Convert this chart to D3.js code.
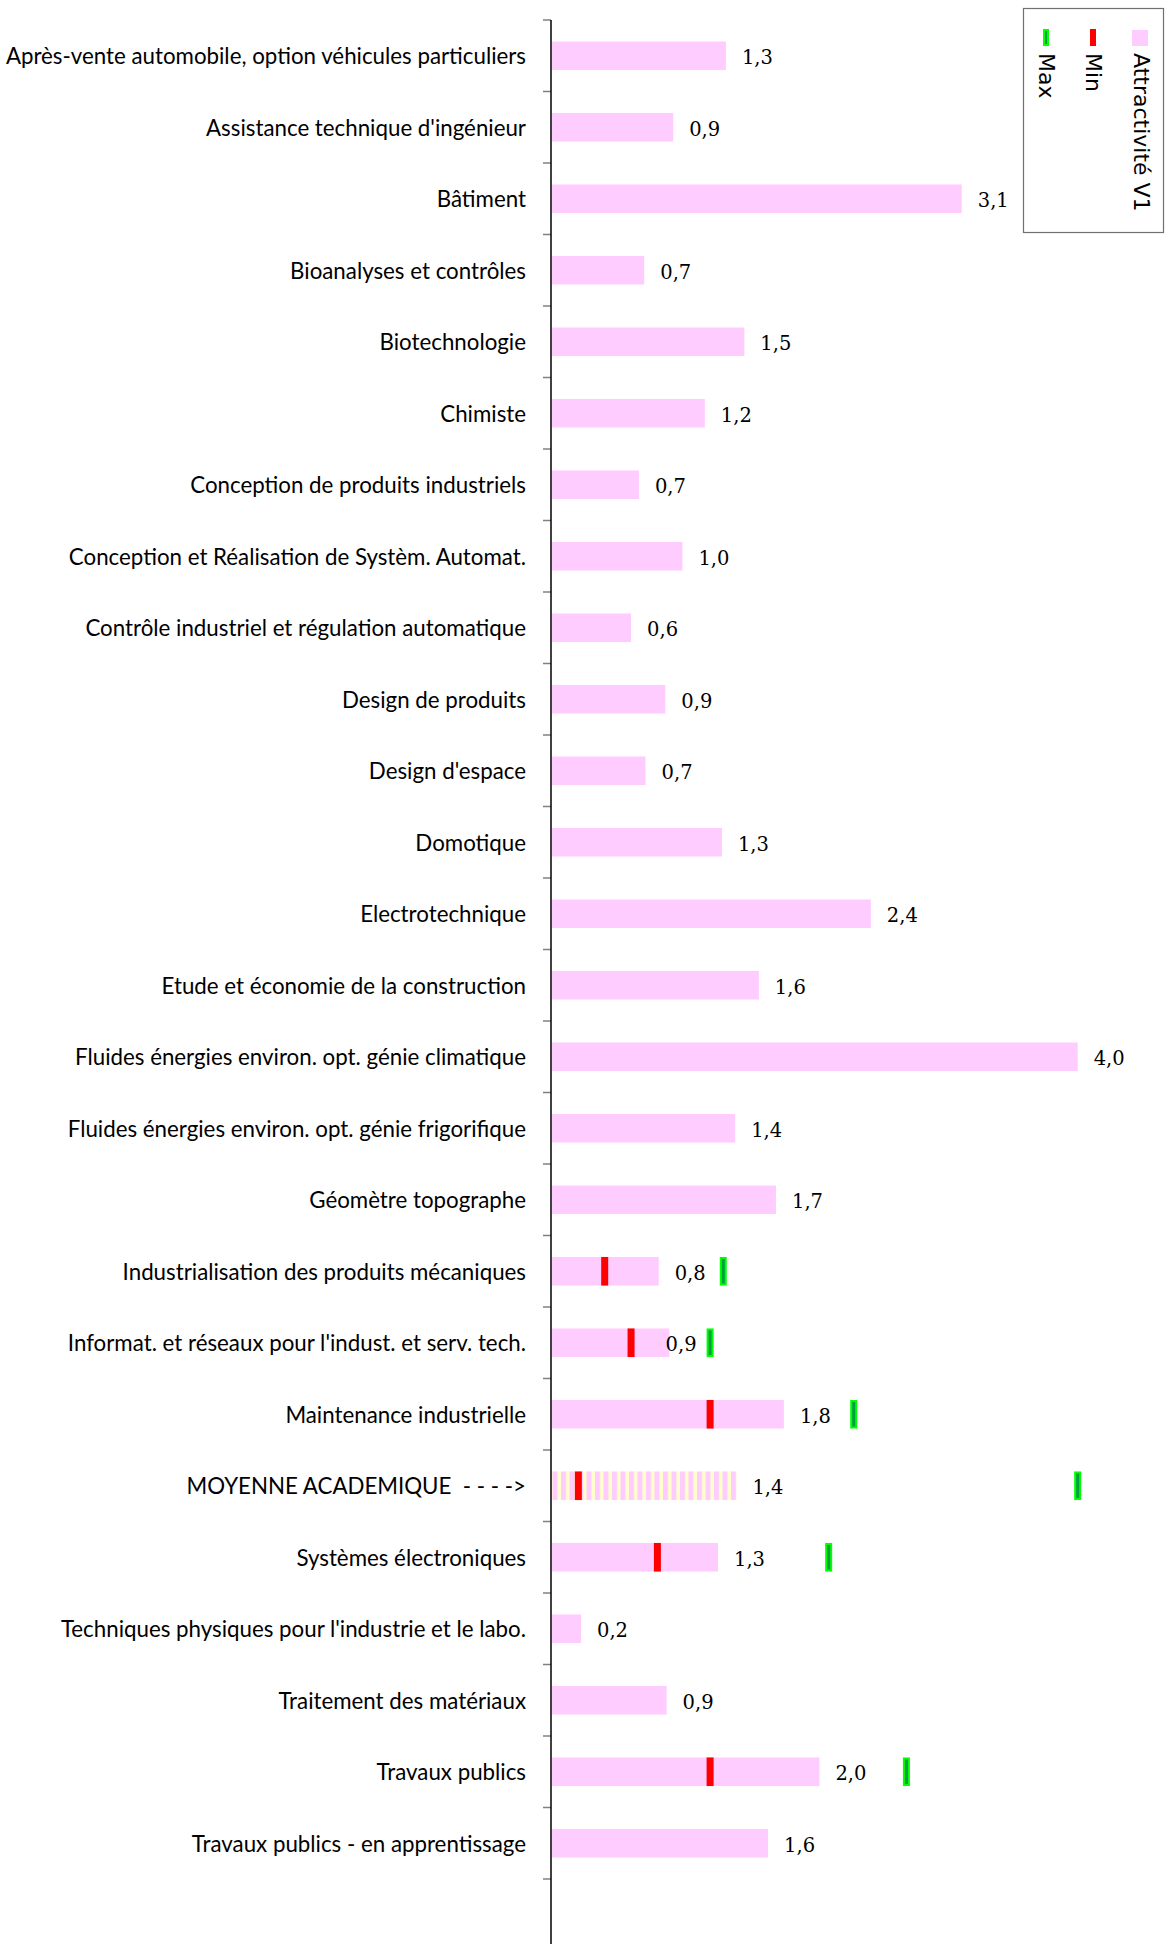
<!DOCTYPE html>
<html>
<head>
<meta charset="utf-8">
<script src="https://cdn.jsdelivr.net/npm/d3@7"></script>
<style>
  body { margin: 0; background: #fff; }
  svg { display: block; }
  .cat { font-family: Lato, "Open Sans", sans-serif; font-size: 22.3px; fill: #000; white-space: pre; }
  .val { font-family: "DejaVu Serif", "Liberation Serif", serif; font-size: 19.5px; fill: #000; }
  .leg { font-family: "DejaVu Sans", sans-serif; font-size: 22px; fill: #000; }
</style>
</head>
<body>
<svg id="chart"></svg>
<script>
// categories, top to bottom
var categories = [
  "Après-vente automobile, option véhicules particuliers",
  "Assistance technique d'ingénieur",
  "Bâtiment",
  "Bioanalyses et contrôles",
  "Biotechnologie",
  "Chimiste",
  "Conception de produits industriels",
  "Conception et Réalisation de Systèm. Automat.",
  "Contrôle industriel et régulation automatique",
  "Design de produits",
  "Design d'espace",
  "Domotique",
  "Electrotechnique",
  "Etude et économie de la construction",
  "Fluides énergies environ. opt. génie climatique",
  "Fluides énergies environ. opt. génie frigorifique",
  "Géomètre topographe",
  "Industrialisation des produits mécaniques",
  "Informat. et réseaux pour l'indust. et serv. tech.",
  "Maintenance industrielle",
  "MOYENNE ACADEMIQUE  - - - ->",
  "Systèmes électroniques",
  "Techniques physiques pour l'industrie et le labo.",
  "Traitement des matériaux",
  "Travaux publics",
  "Travaux publics - en apprentissage"
];

// Attractivité V1
var attract = [1.32, 0.92, 3.11, 0.70, 1.46, 1.16, 0.66, 0.99, 0.60, 0.86, 0.71, 1.29, 2.42,
               1.57, 3.99, 1.39, 1.70, 0.81, 0.89, 1.76, 1.40, 1.26, 0.22, 0.87, 2.03, 1.64];

var minVals = [null, null, null, null, null, null, null, null, null, null, null, null, null,
               null, null, null, null, 0.40, 0.60, 1.20, 0.20, 0.80, null, null, 1.20, null];

var maxVals = [null, null, null, null, null, null, null, null, null, null, null, null, null,
               null, null, null, null, 1.30, 1.20, 2.29, 3.99, 2.10, null, null, 2.69, null];

var averageCategory = "MOYENNE ACADEMIQUE  - - - ->";

var legendItems = ["Attractivité V1", "Min", "Max"];

var W = 1172, H = 1944;
var axisX = 551;

var svg = d3.select('#chart').attr('width', W).attr('height', H);
svg.append('rect').attr('width', W).attr('height', H).attr('fill', '#fff');

var defs = svg.append('defs');
var pat = defs.append('pattern')
  .attr('id', 'stripes')
  .attr('patternUnits', 'userSpaceOnUse')
  .attr('width', 8.5).attr('height', 10);
pat.append('rect').attr('width', 8.5).attr('height', 10).attr('fill', '#ffccff');
pat.append('rect').attr('x', 5).attr('width', 3.5).attr('height', 10).attr('fill', '#ffffcc');

var x = d3.scaleLinear().domain([0, 4]).range([axisX + 1, axisX + 1 + 527]);

var y = d3.scaleBand()
  .domain(categories)
  .range([20, 1879])
  .paddingInner(0.6)
  .paddingOuter(0.3);

var gAxis = svg.append('g').attr('transform', 'translate(' + axisX + ',0)');

// tick marks between categories
var boundaries = d3.range(categories.length + 1).map(function(i){ return 20 + i * (1859 / categories.length); });
gAxis.selectAll('line.tick')
  .data(boundaries)
  .enter().append('line')
  .attr('class', 'tick')
  .attr('x1', -8).attr('x2', 0)
  .attr('y1', function(d){ return d; })
  .attr('y2', function(d){ return d; })
  .attr('stroke', '#808080')
  .attr('stroke-width', 1.5);

gAxis.append('line')
  .attr('x1', 0).attr('x2', 0)
  .attr('y1', 20).attr('y2', H)
  .attr('stroke', '#000')
  .attr('stroke-width', 1.5);

svg.append('g').selectAll('text')
  .data(categories)
  .enter().append('text')
  .attr('class', 'cat')
  .attr('x', 526)
  .attr('y', function(d){ return y(d) + y.bandwidth() / 2; })
  .attr('text-anchor', 'end')
  .attr('dominant-baseline', 'central')
  .text(function(d){ return d; });

// bars
var rows = categories.map(function(c, i){
  return { cat: c, v: attract[i], min: minVals[i], max: maxVals[i] };
});

svg.append('g').selectAll('rect')
  .data(rows)
  .enter().append('rect')
  .attr('x', x(0))
  .attr('y', function(d){ return y(d.cat); })
  .attr('width', function(d){ return x(d.v) - x(0); })
  .attr('height', y.bandwidth())
  .attr('fill', function(d){ return d.cat === averageCategory ? 'url(#stripes)' : '#ffccff'; });

var mw = 7;

// value labels, pulled left if they would run into the max marker
var fmt = d3.format('.1f');
svg.append('g').selectAll('text')
  .data(rows)
  .enter().append('text')
  .attr('class', 'val')
  .attr('y', function(d){ return y(d.cat) + y.bandwidth() / 2 + 2; })
  .attr('dominant-baseline', 'central')
  .text(function(d){ return fmt(d.v).replace('.', ','); })
  .attr('x', function(d){
    var lx = x(d.v) + 16;
    var w = this.getComputedTextLength();
    if (d.max != null) {
      var mLeft = x(d.max) - mw / 2;
      if (lx + w > mLeft - 8) lx = mLeft - 10 - w;
    }
    return lx;
  });

// min / max markers
svg.append('g').selectAll('rect')
  .data(rows.filter(function(d){ return d.min != null; }))
  .enter().append('rect')
  .attr('x', function(d){ return x(d.min) - mw / 2; })
  .attr('y', function(d){ return y(d.cat); })
  .attr('width', mw)
  .attr('height', y.bandwidth())
  .attr('fill', '#ff0000');

svg.append('g').selectAll('rect')
  .data(rows.filter(function(d){ return d.max != null; }))
  .enter().append('rect')
  .attr('x', function(d){ return x(d.max) - mw / 2 + 1; })
  .attr('y', function(d){ return y(d.cat) + 1; })
  .attr('width', mw - 2)
  .attr('height', y.bandwidth() - 2)
  .attr('fill', '#00a040')
  .attr('stroke', '#00ff00')
  .attr('stroke-width', 2);

// legend (rotated)
var leg = svg.append('g');
leg.append('rect')
  .attr('x', 1023.5).attr('y', 8.5)
  .attr('width', 140).attr('height', 224)
  .attr('fill', '#fff')
  .attr('stroke', '#707070')
  .attr('stroke-width', 1.2);

var legX = [1141, 1093, 1046];
legendItems.forEach(function(name, i){
  var cx = legX[i];
  if (i === 0) {
    leg.append('rect').attr('x', cx - 9).attr('y', 30).attr('width', 16).attr('height', 16).attr('fill', '#ffccff');
  } else if (i === 1) {
    leg.append('rect').attr('x', cx - 3).attr('y', 29).attr('width', 6).attr('height', 17).attr('fill', '#ff0000');
  } else {
    leg.append('rect').attr('x', cx - 2).attr('y', 30).attr('width', 4).attr('height', 15)
      .attr('fill', '#00a040').attr('stroke', '#00ff00').attr('stroke-width', 2);
  }
  leg.append('text')
    .attr('class', 'leg')
    .attr('transform', 'translate(' + cx + ',53) rotate(90)')
    .attr('dominant-baseline', 'central')
    .text(name);
});
</script>
</body>
</html>
